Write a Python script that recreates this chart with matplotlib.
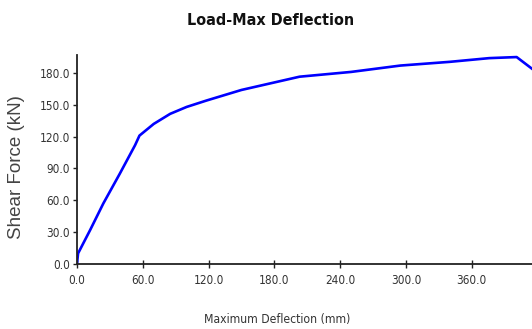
import matplotlib
matplotlib.use("Agg")
import matplotlib.pyplot as plt
from matplotlib.ticker import MultipleLocator, FormatStrFormatter

# Data
deflection = [0, 1, 4, 12, 24, 39, 53, 57, 70, 85, 100, 118, 150, 203, 250,
              295, 340, 376, 401, 415]
shear = [0, 10, 16, 32, 57, 85, 112, 121, 132, 141.5, 148, 154, 164, 176.5,
         181, 187, 190.5, 194, 195, 184]

title = "Load-Max Deflection"
xlabel = "Maximum Deflection (mm)"
ylabel = "Shear Force (kN)"

narrow = ["Liberation Sans Narrow", "DejaVu Sans"]
regular = ["Liberation Sans", "DejaVu Sans"]

fig = plt.figure(figsize=(5.32, 3.29), dpi=100)
ax = fig.add_axes([0.1447, 0.1976, 0.8553, 0.6354])

ax.plot(deflection, shear, color="#0000ff", linewidth=1.9)

ax.set_xlim(0, 415)
ax.set_ylim(0, 197)
ax.xaxis.set_major_locator(MultipleLocator(60))
ax.yaxis.set_major_locator(MultipleLocator(30))
ax.xaxis.set_major_formatter(FormatStrFormatter("%.1f"))
ax.yaxis.set_major_formatter(FormatStrFormatter("%.1f"))

for side in ("top", "right"):
    ax.spines[side].set_visible(False)
for side in ("left", "bottom"):
    ax.spines[side].set_linewidth(1.3)
    ax.spines[side].set_color("#222222")

ax.tick_params(axis="x", direction="inout", length=6, width=1.0,
               colors="#222222", pad=4)
ax.tick_params(axis="y", direction="out", length=3, width=1.0,
               colors="#222222", pad=2)
for lab in ax.get_xticklabels() + ax.get_yticklabels():
    lab.set_family(narrow)
    lab.set_stretch("condensed")
    lab.set_fontsize(8.5)
    lab.set_color("#333333")

ax.set_xlabel(xlabel, family=narrow, stretch="condensed", fontsize=8.7,
              color="#333333")
ax.xaxis.set_label_coords(0.44, -0.235)
ax.set_ylabel(ylabel, family=regular, fontsize=13.5, color="#444444")
ax.yaxis.set_label_coords(-0.114, 0.462)
fig.text(0.509, 0.939, title, family=narrow, stretch="condensed",
         fontweight="bold", fontsize=11.5, color="#111111",
         ha="center", va="center")

fig.savefig("out.png", dpi=100)
